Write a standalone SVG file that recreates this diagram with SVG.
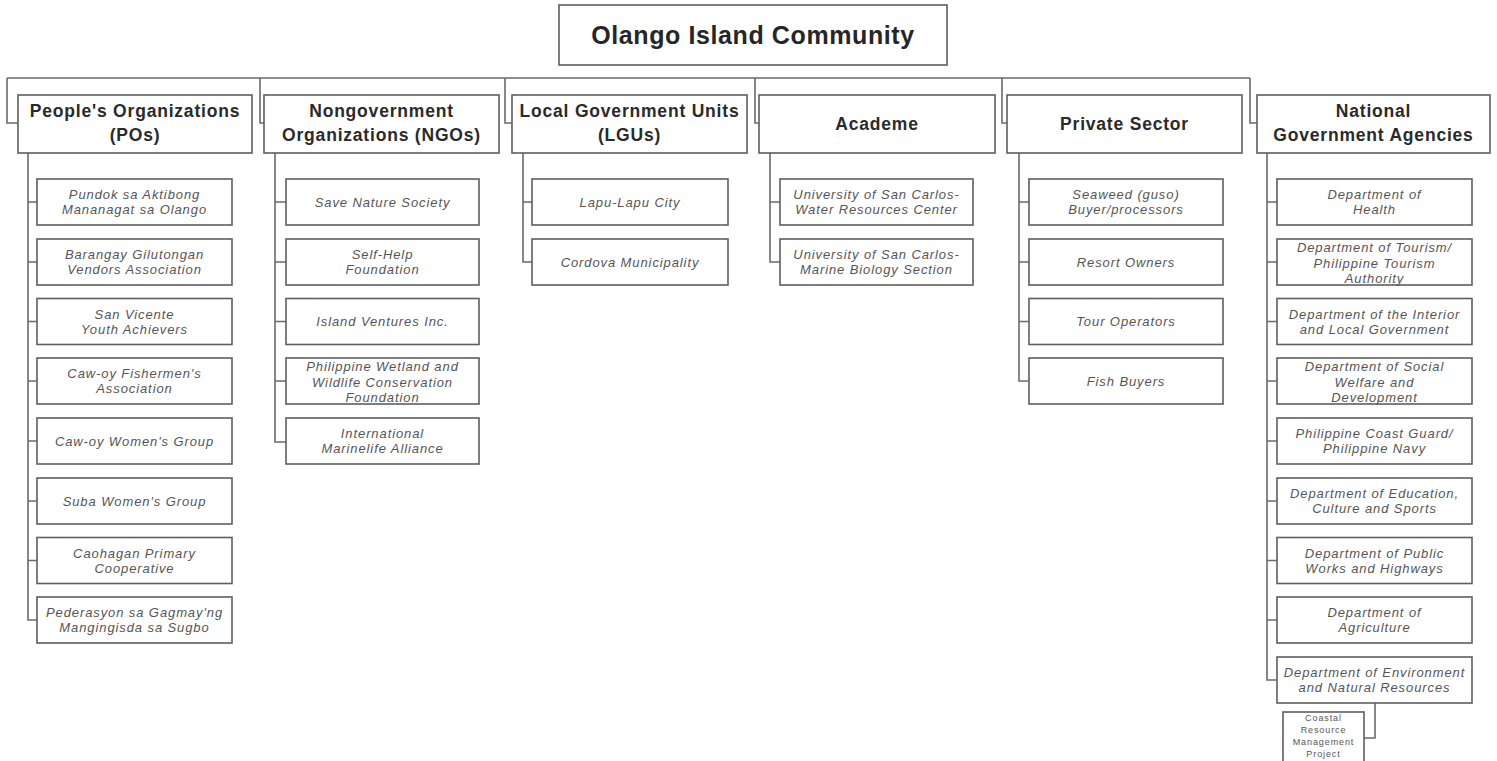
<svg xmlns="http://www.w3.org/2000/svg" width="1497" height="761" viewBox="0 0 1497 761">
  <style>
    .box { fill: #ffffff; stroke: #5e5e5e; stroke-width: 1.6; }
    .wire { fill: none; stroke: #6a6a6a; stroke-width: 1.6; }
    .title { font-family: "Liberation Sans", Arial, sans-serif; font-weight: bold; font-size: 25px; letter-spacing: 0.6px; fill: #262626; text-anchor: middle; }
    .head { font-family: "Liberation Sans", Arial, sans-serif; font-weight: bold; font-size: 17.5px; letter-spacing: 0.8px; fill: #2a2a2a; text-anchor: middle; }
    .item { font-family: "Liberation Sans", Arial, sans-serif; font-style: italic; font-size: 13px; letter-spacing: 0.9px; fill: #555555; text-anchor: middle; }
    .tiny { font-family: "Liberation Sans", Arial, sans-serif; font-size: 9px; letter-spacing: 0.9px; fill: #555555; text-anchor: middle; }
  </style>

  <!-- connectors -->
  <g id="connectors" class="wire">
    <!-- top bar with drops to the six sector boxes -->
    <path d="M7,78 H1250"/>
    <path d="M7,78 V123 H18"/>
    <path d="M260,78 V123 H264"/>
    <path d="M505,78 V123 H512"/>
    <path d="M755,78 V123 H759"/>
    <path d="M1002,78 V123 H1007"/>
    <path d="M1250,78 V123 H1257"/>
    <!-- People's Organizations -->
    <path d="M28,153 V620 H37 M28,202 H37 M28,262 H37 M28,321.5 H37 M28,381 H37 M28,441 H37 M28,501 H37 M28,560.5 H37"/>
    <!-- NGOs -->
    <path d="M275,153 V442 H286 M275,202 H286 M275,262 H286 M275,321.5 H286 M275,381 H286"/>
    <!-- LGUs -->
    <path d="M523,153 V262 H532 M523,202 H532"/>
    <!-- Academe -->
    <path d="M770,153 V262 H780 M770,202 H780"/>
    <!-- Private Sector -->
    <path d="M1019,153 V381 H1029 M1019,202 H1029 M1019,262 H1029 M1019,321.5 H1029"/>
    <!-- National Government Agencies -->
    <path d="M1267,153 V680 H1277 M1267,202 H1277 M1267,262 H1277 M1267,321.5 H1277 M1267,381 H1277 M1267,441 H1277 M1267,501 H1277 M1267,560.5 H1277 M1267,620 H1277"/>
    <!-- DENR to CRMP -->
    <path d="M1375,703 V738 H1364"/>
  </g>

  <!-- root -->
  <g id="olango">
    <rect class="box" x="559" y="5" width="388" height="60"/>
    <text class="title" x="753" y="44">Olango Island Community</text>
  </g>

  <!-- sector headers -->
  <g id="pos">
    <rect class="box" x="18" y="95" width="234" height="58"/>
    <text class="head" x="135" y="117">People's Organizations</text>
    <text class="head" x="135" y="141">(POs)</text>
  </g>
  <g id="ngos">
    <rect class="box" x="264" y="95" width="235" height="58"/>
    <text class="head" x="381.5" y="117">Nongovernment</text>
    <text class="head" x="381.5" y="141">Organizations (NGOs)</text>
  </g>
  <g id="lgus">
    <rect class="box" x="512" y="95" width="235" height="58"/>
    <text class="head" x="629.5" y="117">Local Government Units</text>
    <text class="head" x="629.5" y="141">(LGUs)</text>
  </g>
  <g id="academe">
    <rect class="box" x="759" y="95" width="236" height="58"/>
    <text class="head" x="877" y="130">Academe</text>
  </g>
  <g id="private">
    <rect class="box" x="1007" y="95" width="235" height="58"/>
    <text class="head" x="1124.5" y="130">Private Sector</text>
  </g>
  <g id="nga">
    <rect class="box" x="1257" y="95" width="233" height="58"/>
    <text class="head" x="1373.5" y="117">National</text>
    <text class="head" x="1373.5" y="141">Government Agencies</text>
  </g>

  <!-- People's Organizations members -->
  <g id="po-1"><rect class="box" x="37" y="179" width="195" height="46"/>
    <text class="item" x="134.5" y="199">Pundok sa Aktibong</text><text class="item" x="134.5" y="214">Mananagat sa Olango</text></g>
  <g id="po-2"><rect class="box" x="37" y="239" width="195" height="46"/>
    <text class="item" x="134.5" y="259">Barangay Gilutongan</text><text class="item" x="134.5" y="274">Vendors Association</text></g>
  <g id="po-3"><rect class="box" x="37" y="298.5" width="195" height="46"/>
    <text class="item" x="134.5" y="318.5">San Vicente</text><text class="item" x="134.5" y="333.5">Youth Achievers</text></g>
  <g id="po-4"><rect class="box" x="37" y="358" width="195" height="46"/>
    <text class="item" x="134.5" y="378">Caw-oy Fishermen's</text><text class="item" x="134.5" y="393">Association</text></g>
  <g id="po-5"><rect class="box" x="37" y="418" width="195" height="46"/>
    <text class="item" x="134.5" y="445.5">Caw-oy Women's Group</text></g>
  <g id="po-6"><rect class="box" x="37" y="478" width="195" height="46"/>
    <text class="item" x="134.5" y="505.5">Suba Women's Group</text></g>
  <g id="po-7"><rect class="box" x="37" y="537.5" width="195" height="46"/>
    <text class="item" x="134.5" y="557.5">Caohagan Primary</text><text class="item" x="134.5" y="572.5">Cooperative</text></g>
  <g id="po-8"><rect class="box" x="37" y="597" width="195" height="46"/>
    <text class="item" x="134.5" y="617">Pederasyon sa Gagmay'ng</text><text class="item" x="134.5" y="632">Mangingisda sa Sugbo</text></g>

  <!-- NGO members -->
  <g id="ngo-1"><rect class="box" x="286" y="179" width="193" height="46"/>
    <text class="item" x="382.5" y="206.5">Save Nature Society</text></g>
  <g id="ngo-2"><rect class="box" x="286" y="239" width="193" height="46"/>
    <text class="item" x="382.5" y="259">Self-Help</text><text class="item" x="382.5" y="274">Foundation</text></g>
  <g id="ngo-3"><rect class="box" x="286" y="298.5" width="193" height="46"/>
    <text class="item" x="382.5" y="326">Island Ventures Inc.</text></g>
  <g id="ngo-4"><rect class="box" x="286" y="358" width="193" height="46"/>
    <text class="item" x="382.5" y="371">Philippine Wetland and</text><text class="item" x="382.5" y="386.5">Wildlife Conservation</text><text class="item" x="382.5" y="402">Foundation</text></g>
  <g id="ngo-5"><rect class="box" x="286" y="418" width="193" height="46"/>
    <text class="item" x="382.5" y="438">International</text><text class="item" x="382.5" y="453">Marinelife Alliance</text></g>

  <!-- LGU members -->
  <g id="lgu-1"><rect class="box" x="532" y="179" width="196" height="46"/>
    <text class="item" x="630" y="206.5">Lapu-Lapu City</text></g>
  <g id="lgu-2"><rect class="box" x="532" y="239" width="196" height="46"/>
    <text class="item" x="630" y="266.5">Cordova Municipality</text></g>

  <!-- Academe members -->
  <g id="acad-1"><rect class="box" x="780" y="179" width="193" height="46"/>
    <text class="item" x="876.5" y="199">University of San Carlos-</text><text class="item" x="876.5" y="214">Water Resources Center</text></g>
  <g id="acad-2"><rect class="box" x="780" y="239" width="193" height="46"/>
    <text class="item" x="876.5" y="259">University of San Carlos-</text><text class="item" x="876.5" y="274">Marine Biology Section</text></g>

  <!-- Private Sector members -->
  <g id="priv-1"><rect class="box" x="1029" y="179" width="194" height="46"/>
    <text class="item" x="1126" y="199">Seaweed (guso)</text><text class="item" x="1126" y="214">Buyer/processors</text></g>
  <g id="priv-2"><rect class="box" x="1029" y="239" width="194" height="46"/>
    <text class="item" x="1126" y="266.5">Resort Owners</text></g>
  <g id="priv-3"><rect class="box" x="1029" y="298.5" width="194" height="46"/>
    <text class="item" x="1126" y="326">Tour Operators</text></g>
  <g id="priv-4"><rect class="box" x="1029" y="358" width="194" height="46"/>
    <text class="item" x="1126" y="385.5">Fish Buyers</text></g>

  <!-- National Government Agencies members -->
  <g id="nga-1"><rect class="box" x="1277" y="179" width="195" height="46"/>
    <text class="item" x="1374.5" y="199">Department of</text><text class="item" x="1374.5" y="214">Health</text></g>
  <g id="nga-2"><rect class="box" x="1277" y="239" width="195" height="46"/>
    <text class="item" x="1374.5" y="252">Department of Tourism/</text><text class="item" x="1374.5" y="267.5">Philippine Tourism</text><text class="item" x="1374.5" y="283">Authority</text></g>
  <g id="nga-3"><rect class="box" x="1277" y="298.5" width="195" height="46"/>
    <text class="item" x="1374.5" y="318.5">Department of the Interior</text><text class="item" x="1374.5" y="333.5">and Local Government</text></g>
  <g id="nga-4"><rect class="box" x="1277" y="358" width="195" height="46"/>
    <text class="item" x="1374.5" y="371">Department of Social</text><text class="item" x="1374.5" y="386.5">Welfare and</text><text class="item" x="1374.5" y="402">Development</text></g>
  <g id="nga-5"><rect class="box" x="1277" y="418" width="195" height="46"/>
    <text class="item" x="1374.5" y="438">Philippine Coast Guard/</text><text class="item" x="1374.5" y="453">Philippine Navy</text></g>
  <g id="nga-6"><rect class="box" x="1277" y="478" width="195" height="46"/>
    <text class="item" x="1374.5" y="498">Department of Education,</text><text class="item" x="1374.5" y="513">Culture and Sports</text></g>
  <g id="nga-7"><rect class="box" x="1277" y="537.5" width="195" height="46"/>
    <text class="item" x="1374.5" y="557.5">Department of Public</text><text class="item" x="1374.5" y="572.5">Works and Highways</text></g>
  <g id="nga-8"><rect class="box" x="1277" y="597" width="195" height="46"/>
    <text class="item" x="1374.5" y="617">Department of</text><text class="item" x="1374.5" y="632">Agriculture</text></g>
  <g id="nga-9"><rect class="box" x="1277" y="657" width="195" height="46"/>
    <text class="item" x="1374.5" y="677">Department of Environment</text><text class="item" x="1374.5" y="692">and Natural Resources</text></g>

  <!-- project under DENR -->
  <g id="crmp"><rect class="box" x="1283" y="712" width="81" height="54"/>
    <text class="tiny" x="1323.5" y="721">Coastal</text>
    <text class="tiny" x="1323.5" y="733">Resource</text>
    <text class="tiny" x="1323.5" y="745">Management</text>
    <text class="tiny" x="1323.5" y="756.5">Project</text></g>
</svg>
